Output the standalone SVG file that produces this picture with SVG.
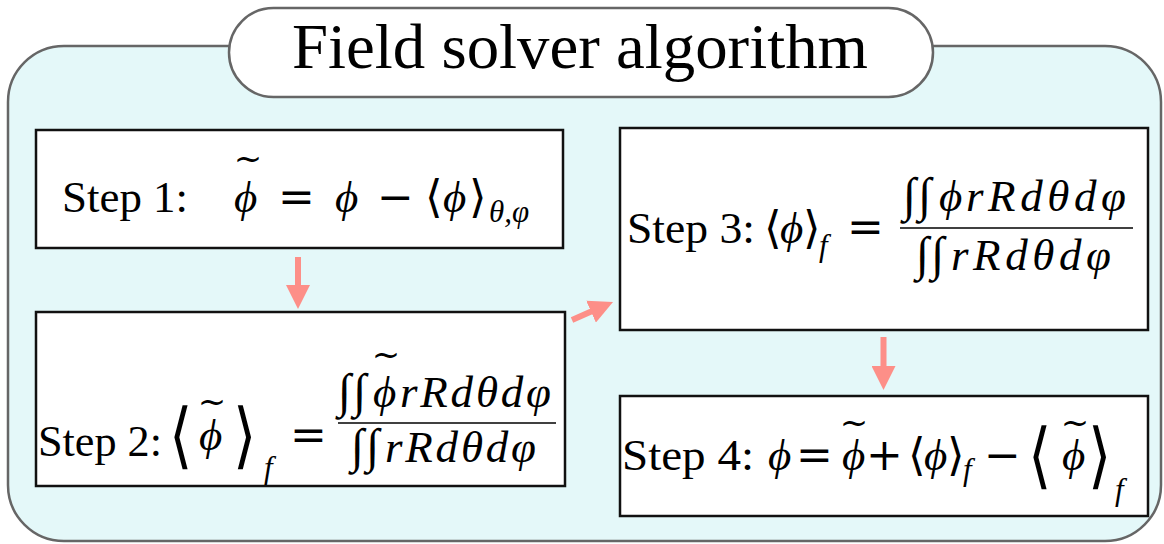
<svg xmlns="http://www.w3.org/2000/svg" width="1164" height="544" viewBox="0 0 1164 544">
<defs>
<style>
.f{font-family:"Liberation Serif","DejaVu Serif",serif;fill:#000}
.s{font-size:45px}
.i{font-style:italic}
.op{font-family:"DejaVu Serif",serif;font-size:44px;fill:#000}
.br{font-family:"DejaVu Serif",serif;font-size:45px;fill:#000}
.bb{font-family:"DejaVu Serif",serif;font-size:48px;fill:#000}
.sub{font-family:"Liberation Serif","DejaVu Serif",serif;font-size:31px;font-style:italic;fill:#000}
.tl{font-family:"DejaVu Serif",serif;font-size:34px;text-anchor:middle;fill:#000}
.int{font-family:"Liberation Serif","DejaVu Serif",serif;font-size:48px;fill:#000}
.box{fill:#fff;stroke:#111;stroke-width:2.5}
.bar{stroke:#000;stroke-width:1.6}
.arr{stroke:#fd8f88;stroke-width:6;fill:none;marker-end:url(#ah)}
</style>
<marker id="ah" viewBox="0 0 24 24" markerWidth="24" markerHeight="24" refX="10" refY="12" orient="auto" markerUnits="userSpaceOnUse">
<path d="M0,0 L24,12 L0,24 z" fill="#fd8f88"/>
</marker>
</defs>

<g id="container">
<rect x="8" y="46" width="1153" height="495" rx="56" ry="56" fill="#e4f8f9" stroke="#666" stroke-width="2.5"/>
</g>

<g id="title">
<rect x="229" y="8" width="704" height="89" rx="44.5" ry="44.5" fill="#fff" stroke="#666" stroke-width="2.5"/>
<text class="f" x="292" y="68" font-size="64" textLength="576" lengthAdjust="spacingAndGlyphs">Field solver algorithm</text>
</g>

<g id="connectors">
<line class="arr" x1="298" y1="257" x2="298" y2="295"/>
<line class="arr" x1="572" y1="320" x2="600.2" y2="307.6"/>
<line class="arr" x1="883.5" y1="337" x2="883.5" y2="376"/>
</g>

<g id="step1">
<rect class="box" x="36" y="130" width="527" height="118"/>
<text class="f s" x="62" y="212" textLength="126" lengthAdjust="spacingAndGlyphs">Step 1:</text>
<text class="f s i" x="234" y="212">ϕ</text>
<text class="tl" x="248" y="170">~</text>
<text class="op" x="278" y="212">=</text>
<text class="f s i" x="335" y="212">ϕ</text>
<text class="op" x="377" y="212">−</text>
<text class="br" x="425" y="212">⟨</text>
<text class="f s i" x="443" y="212">ϕ</text>
<text class="br" x="469" y="212">⟩</text>
<text class="sub" x="489" y="222">θ,φ</text>
</g>

<g id="step2">
<rect class="box" x="36" y="312" width="529" height="174"/>
<text class="f s" x="38" y="456" textLength="124" lengthAdjust="spacingAndGlyphs">Step 2:</text>
<text class="bb" transform="translate(169,460) scale(1.25,1.5)">⟨</text>
<text class="f s i" x="199" y="450">ϕ</text>
<text class="tl" x="212" y="413">~</text>
<text class="bb" transform="translate(233,460) scale(1.25,1.5)">⟩</text>
<text class="sub" x="264" y="478">f</text>
<text class="op" x="290" y="450">=</text>
<line class="bar" x1="338" y1="423" x2="556" y2="423"/>
<text class="int" x="338" y="407">∫<tspan dx="2">∫</tspan></text>
<text class="f s i" x="373" y="407">ϕ</text>
<text class="tl" x="386" y="366">~</text>
<text class="f s i" x="400" y="407" textLength="151" lengthAdjust="spacing">rRdθdφ</text>
<text class="int" x="351" y="462">∫<tspan dx="2">∫</tspan></text>
<text class="f s i" x="385" y="462" textLength="151" lengthAdjust="spacing">rRdθdφ</text>
</g>

<g id="step3">
<rect class="box" x="620" y="128" width="528" height="202"/>
<text class="f s" x="627" y="243" textLength="128" lengthAdjust="spacingAndGlyphs">Step 3:</text>
<text class="br" x="764" y="243">⟨</text>
<text class="f s i" x="780" y="243">ϕ</text>
<text class="br" x="803" y="243">⟩</text>
<text class="sub" x="819" y="256">f</text>
<text class="op" x="847" y="242">=</text>
<line class="bar" x1="900" y1="228" x2="1133" y2="228"/>
<text class="int" x="903" y="211">∫<tspan dx="2">∫</tspan></text>
<text class="f s i" x="939" y="211">ϕ</text>
<text class="f s i" x="966" y="211" textLength="160" lengthAdjust="spacing">rRdθdφ</text>
<text class="int" x="916" y="270">∫<tspan dx="2">∫</tspan></text>
<text class="f s i" x="951" y="270" textLength="160" lengthAdjust="spacing">rRdθdφ</text>
</g>

<g id="step4">
<rect class="box" x="620" y="396" width="528" height="120"/>
<text class="f s" x="622" y="470" textLength="132" lengthAdjust="spacingAndGlyphs">Step 4:</text>
<text class="f s i" x="768" y="470">ϕ</text>
<text class="op" x="796" y="470">=</text>
<text class="f s i" x="842" y="470">ϕ</text>
<text class="tl" x="854" y="434">~</text>
<text class="op" x="866" y="470">+</text>
<text class="br" x="908" y="470">⟨</text>
<text class="f s i" x="924" y="470">ϕ</text>
<text class="br" x="947" y="470">⟩</text>
<text class="sub" x="963" y="480">f</text>
<text class="op" x="984" y="470">−</text>
<text class="bb" transform="translate(1028,480) scale(1.25,1.5)">⟨</text>
<text class="f s i" x="1062" y="470">ϕ</text>
<text class="tl" x="1075" y="434">~</text>
<text class="bb" transform="translate(1088,480) scale(1.25,1.5)">⟩</text>
<text class="sub" x="1115" y="500">f</text>
</g>
</svg>
